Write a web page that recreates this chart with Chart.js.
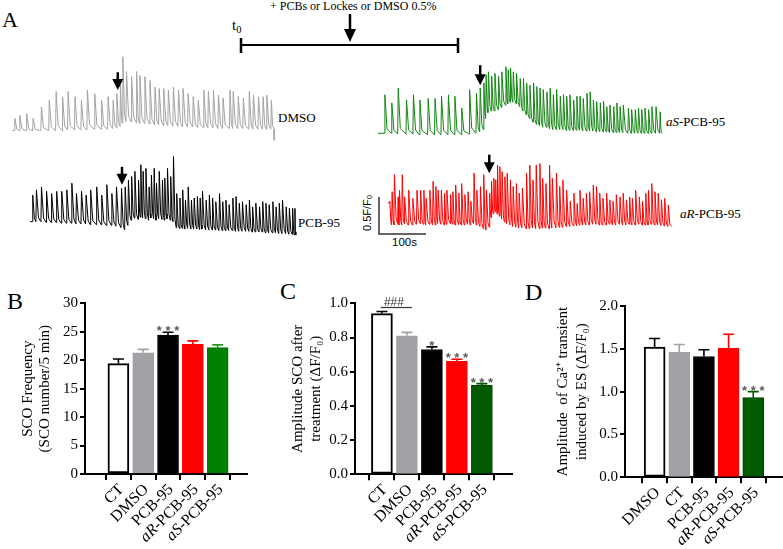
<!DOCTYPE html>
<html><head><meta charset="utf-8">
<script src="https://cdn.jsdelivr.net/npm/chart.js@4.4.1/dist/chart.umd.min.js"></script>
<style>
html,body{margin:0;padding:0;background:#fff;}
#wrap{position:relative;width:783px;height:549px;overflow:hidden;font-family:"Liberation Serif","Times New Roman",serif;color:#000;}
#wrap canvas{position:absolute;}
.lb{position:absolute;white-space:nowrap;line-height:1;}
.sans{font-family:"Liberation Sans",Arial,sans-serif;}
sub{font-size:70%;vertical-align:-0.25em;line-height:0;}
</style></head>
<body><div id="wrap">
<svg width="783" height="549" style="position:absolute;left:0;top:0">
  <line x1="350" y1="14" x2="350" y2="32" stroke="#000" stroke-width="2.5"/>
  <polygon points="344,29 356,29 350,42" fill="#000"/>
  <line x1="241" y1="45" x2="458" y2="45" stroke="#000" stroke-width="2"/>
  <line x1="241" y1="38" x2="241" y2="53" stroke="#000" stroke-width="2.5"/>
  <line x1="458" y1="38" x2="458" y2="53" stroke="#000" stroke-width="2.5"/>
  <polyline points="379,197 379,234 426,234" fill="none" stroke="#333" stroke-width="1.5"/>
</svg>
<div class="lb" style="left:2px;top:9px;font-size:22px">A</div>
<div class="lb" style="left:270px;top:0px;font-size:12px">+ PCBs or Lockes or DMSO 0.5%</div>
<div class="lb" style="left:232px;top:18px;font-size:15px">t<sub>0</sub></div>
<div class="lb" style="left:278px;top:111px;font-size:13px">DMSO</div>
<div class="lb" style="left:666px;top:115px;font-size:13px"><i>aS</i>-PCB-95</div>
<div class="lb" style="left:298px;top:216px;font-size:13px">PCB-95</div>
<div class="lb" style="left:680px;top:207px;font-size:13px"><i>aR</i>-PCB-95</div>
<div class="lb sans" style="left:367px;top:213px;font-size:11px;transform:translate(-50%,-50%) rotate(-90deg)">0.5F/F<sub>0</sub></div>
<div class="lb sans" style="left:392px;top:237px;font-size:11.5px">100s</div>
<div class="lb" style="left:7px;top:289px;font-size:24px">B</div>
<div class="lb" style="left:280px;top:279px;font-size:24px">C</div>
<div class="lb" style="left:525px;top:280px;font-size:24px">D</div>

<canvas id="trDMSO" width="264" height="110" style="left:12px;top:40px"></canvas>
<canvas id="trAS" width="290" height="110" style="left:378px;top:40px"></canvas>
<canvas id="trPCB" width="270" height="100" style="left:30px;top:145px"></canvas>
<canvas id="trAR" width="290" height="100" style="left:388px;top:145px"></canvas>
<canvas id="barB" width="255" height="279" style="left:0px;top:270px"></canvas>
<canvas id="barC" width="265" height="279" style="left:255px;top:270px"></canvas>
<canvas id="barD" width="268" height="279" style="left:515px;top:270px"></canvas>
</div>
<script>
// ---------------- Panel A: Ca2+ traces (time in s, F/F0 relative to baseline) ----------------
const dmsoTimes = [6,17,32,46,64,81,96,110,122,137,151,164,180,195,209,220,228,236,241,249,260,271,278,289,300,311,320,330,340,351,362,372,383,394,405,417,427,438,449,459,474,481,492,503,516,525,536,546,554,564];
const dmsoPeaks = [0.17,0.21,0.23,0.17,0.32,0.41,0.53,0.46,0.53,0.46,0.41,0.55,0.50,0.41,0.46,0.41,0.50,0.62,1.00,0.80,0.73,0.80,0.75,0.73,0.68,0.59,0.57,0.57,0.55,0.59,0.55,0.57,0.50,0.46,0.41,0.55,0.53,0.55,0.48,0.44,0.55,0.53,0.46,0.44,0.53,0.48,0.46,0.46,0.48,0.41];
const dmsoTroughs = [0,0,0,0,0,0,0,0,0.01,0.01,0.01,0.01,0.02,0.02,0.02,0.03,0.04,0.06,0.10,0.12,0.12,0.11,0.10,0.10,0.09,0.08,0.08,0.07,0.07,0.06,0.06,0.05,0.05,0.05,0.04,0.04,0.04,0.04,0.03,0.03,0.03,0.03,0.03,0.03,0.02,0.02,0.02,0.02,0.02,0.02];

const asTimes = [15,30,44,62,77,91,109,124,138,153,167,182,199,214,222,230,235,240,247,254,262,269,278,283,288,294,301,309,316,323,330,338,345,352,359,367,374,381,388,396,403,410,417,425,432,439,446,454,461,468,475,483,490,497,504,512,519,526,533,544,551,559,566,573,580,588,595,604,613];
const asPeaks = [0.52,0.41,0.61,0.45,0.52,0.45,0.47,0.47,0.50,0.52,0.50,0.34,0.59,0.54,0.61,0.68,0.79,0.83,0.77,0.81,0.77,0.83,0.90,0.86,0.88,0.83,0.81,0.74,0.74,0.68,0.65,0.68,0.63,0.61,0.59,0.56,0.61,0.52,0.59,0.50,0.52,0.50,0.52,0.45,0.50,0.50,0.47,0.54,0.56,0.45,0.43,0.41,0.43,0.36,0.38,0.36,0.41,0.36,0.38,0.34,0.32,0.32,0.34,0.32,0.34,0.32,0.36,0.36,0.29];
const asTroughs = [0,0,-0.01,-0.01,-0.01,-0.02,-0.02,-0.02,-0.02,-0.02,-0.02,-0.02,-0.01,0,0.02,0.05,0.20,0.28,0.30,0.30,0.32,0.35,0.38,0.40,0.42,0.42,0.40,0.36,0.30,0.25,0.20,0.15,0.12,0.10,0.08,0.08,0.06,0.05,0.05,0.05,0.05,0.04,0.04,0.04,0.04,0.04,0.03,0.03,0.03,0.03,0.02,0.02,0.02,0.02,0.01,0.01,0.01,0.01,0.01,0,0,0,0,0,0,0,0,0,0];

const pcbTimes = [6,14,25,36,47,58,69,80,91,101,112,122,132,145,156,167,178,188,199,207,214,221,228,236,241,246,252,259,264,270,275,281,288,293,299,306,312,319,326,332,338,344,351,357,364,370,375,383,390,397,404,412,419,426,433,441,448,455,462,470,477,484,491,499,506,513,520,528,535,542,549,557,564,571,576];
const pcbPeaks = [0.36,0.43,0.47,0.41,0.38,0.41,0.41,0.43,0.52,0.38,0.41,0.36,0.43,0.47,0.36,0.50,0.38,0.47,0.45,0.47,0.56,0.61,0.68,0.56,0.77,0.68,0.72,0.47,0.63,0.72,0.52,0.68,0.56,0.59,0.72,0.61,0.88,0.38,0.32,0.43,0.29,0.47,0.29,0.32,0.34,0.32,0.41,0.29,0.36,0.32,0.27,0.38,0.27,0.29,0.23,0.32,0.34,0.25,0.27,0.23,0.29,0.20,0.25,0.20,0.27,0.25,0.23,0.27,0.20,0.25,0.29,0.20,0.18,0.18,0.18];
const pcbTroughs = [0,0,0,-0.01,-0.01,-0.01,-0.02,-0.02,-0.02,-0.03,-0.03,-0.03,-0.04,-0.04,-0.04,-0.05,-0.05,-0.06,-0.08,-0.11,-0.05,0.02,0.05,0.03,0.06,0.05,0.04,0.02,0.05,0.04,0.02,0.04,0.03,0.02,0.04,0.02,0,-0.08,-0.09,-0.09,-0.10,-0.09,-0.10,-0.10,-0.10,-0.11,-0.10,-0.11,-0.11,-0.11,-0.11,-0.12,-0.12,-0.12,-0.12,-0.12,-0.13,-0.13,-0.13,-0.13,-0.13,-0.14,-0.14,-0.14,-0.14,-0.15,-0.15,-0.15,-0.15,-0.16,-0.16,-0.16,-0.17,-0.17,-0.18];

const arTimes = [4,9,14,22,25,31,36,45,54,63,71,78,83,91,98,104,109,116,123,128,136,141,147,154,160,167,174,180,187,193,201,208,214,221,225,230,234,238,243,248,254,259,266,272,279,285,292,301,308,315,322,330,336,343,351,357,366,373,380,388,396,404,411,417,424,431,438,446,453,460,467,475,482,489,496,504,511,518,525,531,538,546,553,560,566,573,580,587,594,601,609];
const arPeaks = [0.32,0.45,0.68,0.38,0.47,0.68,0.38,0.47,0.36,0.47,0.47,0.47,0.36,0.47,0.59,0.52,0.47,0.47,0.43,0.47,0.41,0.45,0.54,0.43,0.56,0.41,0.45,0.32,0.70,0.47,0.52,0.68,0.47,0.43,0.59,0.63,0.61,0.81,0.79,0.72,0.65,0.70,0.61,0.52,0.56,0.43,0.50,0.70,0.81,0.61,0.81,0.83,0.63,0.56,0.81,0.63,0.70,0.52,0.61,0.47,0.32,0.43,0.29,0.47,0.36,0.43,0.45,0.54,0.52,0.43,0.36,0.43,0.34,0.32,0.41,0.38,0.43,0.34,0.38,0.36,0.47,0.38,0.32,0.43,0.47,0.56,0.45,0.43,0.34,0.36,0.27];
const arTroughs = [0.30,0,0,0.02,0,0,0.02,0,0,0.01,0.02,0.01,0,0.01,0,0,0.02,0.01,0,0.01,0.02,0.01,0,0.01,0,0,0.01,0,0.02,0,-0.02,-0.05,-0.07,-0.03,0.10,0.15,0.18,0.15,0.12,0.08,0.04,0.02,0,-0.02,-0.03,-0.04,-0.04,-0.05,-0.05,-0.04,-0.05,-0.05,-0.04,-0.04,-0.05,-0.04,-0.04,-0.03,-0.03,-0.02,-0.02,-0.01,-0.01,0,0,0,0,0.01,0.01,0,0,0,0.01,0,0,0.01,0,0,0.01,0,0,0.01,0,0,0,0.01,0,0,-0.01,-0.01,-0.02];

function traceData(times, peaks, troughs, endT, endDrop) {
  const pts = [{x: 0, y: troughs[0]}];
  for (let i = 0; i < times.length; i++) {
    const t = times[i];
    const next = i + 1 < times.length ? times[i + 1] : endT;
    const nt = i + 1 < troughs.length ? troughs[i + 1] : troughs[i];
    pts.push({x: t - 1.2, y: troughs[i]});
    pts.push({x: t, y: peaks[i]});
    const d = Math.min(4.5, (next - t) * 0.45);
    pts.push({x: t + d, y: nt + (peaks[i] - nt) * 0.12});
  }
  pts.push({x: endT, y: troughs[troughs.length - 1]});
  if (endDrop !== undefined) pts.push({x: endT, y: endDrop});
  return pts;
}

const arrowPlugin = {
  id: 'treatArrow',
  afterDatasetsDraw(chart, args, o) {
    if (!o || o.time === undefined) return;
    const ctx = chart.ctx, xs = chart.scales.x, ys = chart.scales.y;
    const x = xs.getPixelForValue(o.time), yTip = ys.getPixelForValue(o.tip), yTop = ys.getPixelForValue(o.top);
    ctx.save();
    ctx.strokeStyle = '#000'; ctx.fillStyle = '#000'; ctx.lineWidth = 2.5;
    ctx.beginPath(); ctx.moveTo(x, yTop); ctx.lineTo(x, yTip - 8); ctx.stroke();
    ctx.beginPath(); ctx.moveTo(x - 5.5, yTip - 11); ctx.lineTo(x + 5.5, yTip - 11); ctx.lineTo(x, yTip); ctx.closePath(); ctx.fill();
    ctx.restore();
  }
};

function traceChart(id, times, peaks, troughs, color, xMax, yMin, yMax, endT, arrow, endDrop) {
  new Chart(document.getElementById(id), {
    type: 'line',
    data: {datasets: [{data: traceData(times, peaks, troughs, endT, endDrop), borderColor: color, borderWidth: 1, pointRadius: 0, tension: 0, fill: false}]},
    options: {
      responsive: false, animation: false, devicePixelRatio: 1,
      layout: {padding: 0},
      plugins: {legend: {display: false}, tooltip: {enabled: false}, treatArrow: arrow},
      scales: {
        x: {type: 'linear', min: 0, max: xMax, display: false},
        y: {min: yMin, max: yMax, display: false}
      }
    },
    plugins: [arrowPlugin]
  });
}

traceChart('trDMSO', dmsoTimes, dmsoPeaks, dmsoTroughs, '#a3a3a3', 574, -0.261, 1.226, 570, {time: 230, tip: 0.55, top: 0.79}, -0.13);
traceChart('trAS', asTimes, asPeaks, asTroughs, '#128512', 630, -0.226, 1.26, 617, {time: 222, tip: 0.65, top: 0.92});
traceChart('trPCB', pcbTimes, pcbPeaks, pcbTroughs, '#000000', 587, -0.315, 1.036, 578, {time: 200, tip: 0.50, top: 0.74});
traceChart('trAR', arTimes, arPeaks, arTroughs, '#ff0000', 630, -0.27, 1.081, 616, {time: 220, tip: 0.70, top: 0.95});

// ---------------- Panels B, C, D: bar charts ----------------
const catsB = ['CT', 'DMSO', 'PCB-95', 'aR-PCB-95', 'aS-PCB-95'];
const freqB = [19.4, 21.3, 24.4, 22.8, 22.2];
const freqErrB = [0.8, 0.6, 0.5, 0.6, 0.5];
const sigB = ['', '', '***', '', ''];
const yTicksB = [0, 5, 10, 15, 20, 25, 30];

const catsC = ['CT', 'DMSO', 'PCB-95', 'aR-PCB-95', 'aS-PCB-95'];
const ampC = [0.94, 0.81, 0.73, 0.66, 0.52];
const ampErrC = [0.012, 0.02, 0.015, 0.013, 0.01];
const sigC = ['', '', '*', '***', '***'];
const yTicksC = [0, 0.2, 0.4, 0.6, 0.8, 1.0];

const catsD = ['DMSO', 'CT', 'PCB-95', 'aR-PCB-95', 'aS-PCB-95'];
const ampD = [1.52, 1.46, 1.41, 1.51, 0.93];
const ampErrD = [0.10, 0.09, 0.08, 0.16, 0.07];
const sigD = ['', '', '', '', '***'];
const yTicksD = [0, 0.5, 1.0, 1.5, 2.0];

// bar colours by position (first bar white with black outline)
const fillsB = ['#ffffff', '#a2a2a6', '#000000', '#ff0000', '#008000'];
const fillsCD = ['#ffffff', '#a2a2a6', '#000000', '#ff0000', '#005a00'];
const edgesB = ['#000000', '#a2a2a6', '#000000', '#ff0000', '#008000'];
const edgesCD = ['#000000', '#a2a2a6', '#000000', '#ff0000', '#004400'];
const errColB = ['#000000', '#a2a2a6', '#000000', '#ff0000', '#2a9a2a'];
const errColCD = ['#000000', '#a2a2a6', '#000000', '#ff0000', '#005a00'];

const errPlugin = {
  id: 'errBars',
  afterDatasetsDraw(chart, args, o) {
    const ctx = chart.ctx, xs = chart.scales.x, ys = chart.scales.y;
    ctx.save();
    o.means.forEach((m, i) => {
      const x = xs.getPixelForValue(i + 1), y0 = ys.getPixelForValue(m), y1 = ys.getPixelForValue(m + o.errs[i]);
      ctx.strokeStyle = o.colors[i]; ctx.lineWidth = 1.6;
      ctx.beginPath(); ctx.moveTo(x, y0); ctx.lineTo(x, y1); ctx.moveTo(x - 5.5, y1); ctx.lineTo(x + 5.5, y1); ctx.stroke();
      if (o.sig[i]) {
        ctx.fillStyle = '#5a5a5a'; ctx.font = 'bold 13px "Liberation Sans"';
        ctx.textAlign = 'center'; ctx.textBaseline = 'alphabetic';
        ctx.fillText(o.sig[i].split('').join(' '), x, y1 + 3);
      }
    });
    if (o.bracket) {
      const b = o.bracket;
      const xa = xs.getPixelForValue(b.from) - 1, xb = xs.getPixelForValue(b.to) + 5;
      const y = ys.getPixelForValue(o.means[b.from - 1] + o.errs[b.from - 1]) - 4;
      ctx.strokeStyle = '#333'; ctx.lineWidth = 1.2;
      ctx.beginPath(); ctx.moveTo(xa, y); ctx.lineTo(xb, y); ctx.stroke();
      ctx.fillStyle = '#333'; ctx.font = '12px "Liberation Sans"'; ctx.textAlign = 'center'; ctx.textBaseline = 'bottom';
      ctx.fillText(b.text, xa + 13, y + 1);
    }
    ctx.restore();
  }
};

const catLabelPlugin = {
  id: 'catLabels',
  afterDraw(chart, args, o) {
    const ctx = chart.ctx, xs = chart.scales.x, ys = chart.scales.y;
    const yAxis = ys.getPixelForValue(ys.min);
    o.labels.forEach((lab, i) => {
      const x = xs.getPixelForValue(i + 1);
      ctx.save();
      ctx.translate(x + 3, yAxis + 13);
      ctx.rotate(-Math.PI / 4);
      ctx.textBaseline = 'middle'; ctx.textAlign = 'right'; ctx.fillStyle = '#000';
      const m = lab.match(/^(a[RS])(.*)$/);
      ctx.font = '16px "Liberation Serif"';
      if (m) {
        ctx.fillText(m[2], 0, 0);
        const w = ctx.measureText(m[2]).width;
        ctx.font = 'italic 16px "Liberation Serif"';
        ctx.fillText(m[1], -w, 0);
      } else ctx.fillText(lab, 0, 0);
      ctx.restore();
    });
  }
};

function barChart(id, c) {
  new Chart(document.getElementById(id), {
    type: 'bar',
    data: {datasets: [{
      data: c.means.map((v, i) => ({x: i + 1, y: v})),
      backgroundColor: c.fills,
      borderColor: c.edges,
      borderWidth: c.fills.map((f, i) => i === 0 ? 2 : 1),
      borderSkipped: false,
      barThickness: 21
    }]},
    options: {
      responsive: false, animation: false, devicePixelRatio: 1,
      layout: {padding: {top: c.padTop, right: c.padRight, left: 0, bottom: 0}},
      plugins: {
        legend: {display: false}, tooltip: {enabled: false},
        errBars: {means: c.means, errs: c.errs, colors: c.errCols, sig: c.sig, bracket: c.bracket},
        catLabels: {labels: c.cats}
      },
      scales: {
        x: {
          type: 'linear', min: c.xMin, max: c.xMax,
          afterBuildTicks: s => { s.ticks = c.cats.map((k, i) => ({value: i + 1})); },
          ticks: {autoSkip: false, callback: () => '', font: {size: 1}, padding: 0},
          grid: {drawOnChartArea: false, drawTicks: true, tickLength: 6, color: '#000', lineWidth: 2},
          border: {display: true, color: '#000', width: 2},
          afterFit: s => { s.height = c.axisH; }
        },
        y: {
          min: c.yTicks[0], max: c.yTicks[c.yTicks.length - 1],
          afterBuildTicks: s => { s.ticks = c.yTicks.map(v => ({value: v})); },
          ticks: {autoSkip: false, color: '#000', padding: 2, font: {family: 'Liberation Serif', size: 15}, callback: v => v.toFixed(c.dec)},
          grid: {drawOnChartArea: false, drawTicks: true, tickLength: 5, color: '#000', lineWidth: 2},
          border: {display: true, color: '#000', width: 2},
          title: {display: true, text: c.title, color: '#000', font: {family: 'Liberation Serif', size: 15, lineHeight: c.titleLH}, padding: {top: c.titlePad, bottom: 0}},
          afterFit: s => { s.width = c.axisW; }
        }
      }
    },
    plugins: [errPlugin, catLabelPlugin]
  });
}

barChart('barB', {cats: catsB, means: freqB, errs: freqErrB, sig: sigB, yTicks: yTicksB, dec: 0,
  fills: fillsB, edges: edgesB, errCols: errColB,
  title: ['SCO Frequency', '(SCO number/5 min)'], titleLH: 1.13, titlePad: 19.5,
  axisW: 85, axisH: 75, padTop: 33.3, padRight: 8, xMin: 0.306, xMax: 5.53});
barChart('barC', {cats: catsC, means: ampC, errs: ampErrC, sig: sigC, yTicks: yTicksC, dec: 1,
  fills: fillsCD, edges: edgesCD, errCols: errColCD,
  title: ['Amplitude SCO after', 'treatment (\u0394F/F\u2080)'], titleLH: 1.22, titlePad: 34,
  axisW: 100, axisH: 74.7, padTop: 33.3, padRight: 8, xMin: 0.551, xMax: 5.577,
  bracket: {from: 1, to: 2, text: '###'}});
barChart('barD', {cats: catsD, means: ampD, errs: ampErrD, sig: sigD, yTicks: yTicksD, dec: 1,
  fills: fillsCD, edges: edgesCD, errCols: errColCD,
  title: ['Amplitude  of Ca\u00b2\u207a transient', 'induced by ES (\u0394F/F\u2080)'], titleLH: 1.27, titlePad: 38.5,
  axisW: 110, axisH: 71.7, padTop: 36, padRight: 1, xMin: 0.435, xMax: 5.53});
</script>
</body></html>
